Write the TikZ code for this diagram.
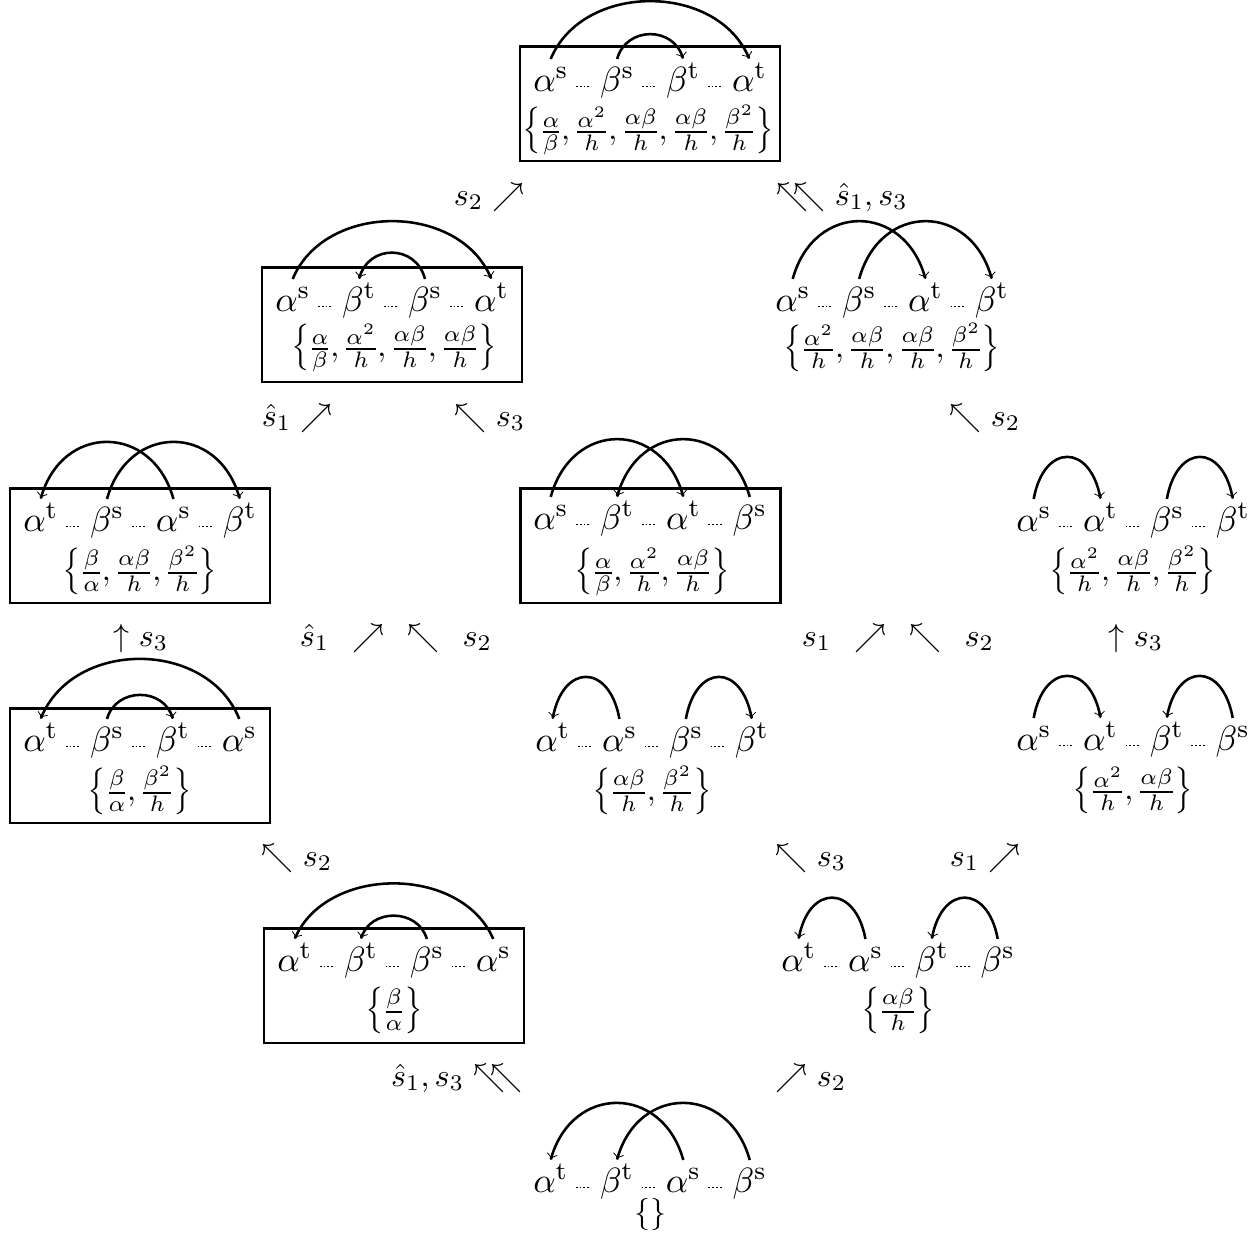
\documentclass[tikz,border=0pt]{standalone}
\usepackage{amsmath}
\usetikzlibrary{matrix,arrows.meta}
\newcommand{\As}{\alpha^{\mathrm{s}}}
\newcommand{\At}{\alpha^{\mathrm{t}}}
\newcommand{\Bs}{\beta^{\mathrm{s}}}
\newcommand{\Bt}{\beta^{\mathrm{t}}}
\newcommand{\fr}[2]{\genfrac{}{}{0.55pt}{1}{#1}{#2}}
\newcommand{\lbr}{\mathopen{\scalebox{1}[1.22]{$\bigl\{$}}}
\newcommand{\rbr}{\mathclose{\scalebox{1}[1.22]{$\bigr\}$}}}
\tikzset{
  rowm/.style={matrix of math nodes, ampersand replacement=\&, column sep=8pt, inner sep=0pt,
     nodes={inner xsep=1pt, inner ysep=2pt, text height=8pt, text depth=2pt, font=\fontsize{10.95}{13}\selectfont}},
  dotl/.style={line width=0.6pt, dash pattern=on 0.6pt off 0.6pt, shorten <=1.2pt, shorten >=2pt},
  arcl/.style={line width=0.8pt, -{To[length=2pt,width=3.4pt,line width=0.25pt]}},
  setn/.style={inner sep=0pt, font={\normalsize\setlength{\nulldelimiterspace}{0.6pt}}},
  framebox/.style={draw, line width=0.9pt, minimum width=81.25pt, minimum height=35.9pt, inner sep=0pt},
  lab/.style={inner sep=0pt, font=\normalsize},
}
\newcommand{\qrow}[7]{%
  \matrix (#1) [rowm] at (#2,#3) {#4 \& #5 \& #6 \& #7 \\};
  \draw[dotl] ([yshift=1.6pt]#1-1-1.base east) -- ([yshift=1.6pt]#1-1-2.base west);
  \draw[dotl] ([yshift=1.6pt]#1-1-2.base east) -- ([yshift=1.6pt]#1-1-3.base west);
  \draw[dotl] ([yshift=1.6pt]#1-1-3.base east) -- ([yshift=1.6pt]#1-1-4.base west);
}
\newcommand{\arcR}[4]{\draw[arcl] (#1.north) .. controls +(#3,-#4) and +(-#3,-#4) .. (#2.north);}
\newcommand{\arcL}[4]{\draw[arcl] (#1.north) .. controls +(-#3,-#4) and +(#3,-#4) .. (#2.north);}
\begin{document}
\begin{tikzpicture}[x=0.3125pt,y=-0.3125pt]
\useasboundingbox (0,0) rectangle (1260,1237);
% frames
\node[framebox] (bT) at (650,103.5) {};
\node[framebox] (b2L) at (392,324.5) {};
\node[framebox] (b3L) at (140,545.5) {};
\node[framebox] (b3M) at (650.5,545.5) {};
\node[framebox] (b4L) at (140,765.5) {};
\node[framebox] (b5L) at (394,985.5) {};
% rows
\qrow{rT}{650}{82}{\As}{\Bs}{\Bt}{\At}
\arcR{rT-1-1}{rT-1-4}{32}{77}
\arcR{rT-1-2}{rT-1-3}{9}{33}
\node[setn] (sT) at (648,130) {$\lbr\fr{\alpha}{\beta},\fr{\alpha^2}{h},\fr{\alpha\beta}{h},\fr{\alpha\beta}{h},\fr{\beta^2}{h}\rbr$};

\qrow{r2L}{392}{302}{\As}{\Bt}{\Bs}{\At}
\arcR{r2L-1-1}{r2L-1-4}{32}{77}
\arcL{r2L-1-3}{r2L-1-2}{9}{35}
\node[setn] (s2L) at (394,348) {$\lbr\fr{\alpha}{\beta},\fr{\alpha^2}{h},\fr{\alpha\beta}{h},\fr{\alpha\beta}{h}\rbr$};

\qrow{r2R}{892}{302}{\As}{\Bs}{\At}{\Bt}
\arcR{r2R-1-1}{r2R-1-3}{21}{77}
\arcR{r2R-1-2}{r2R-1-4}{21}{77}
\node[setn] (s2R) at (892,347) {$\lbr\fr{\alpha^2}{h},\fr{\alpha\beta}{h},\fr{\alpha\beta}{h},\fr{\beta^2}{h}\rbr$};

\qrow{r3L}{140}{522}{\At}{\Bs}{\As}{\Bt}
\arcL{r3L-1-3}{r3L-1-1}{21}{76}
\arcR{r3L-1-2}{r3L-1-4}{21}{76}
\node[setn] (s3L) at (140,570) {$\lbr\fr{\beta}{\alpha},\fr{\alpha\beta}{h},\fr{\beta^2}{h}\rbr$};

\qrow{r3M}{650}{520}{\As}{\Bt}{\At}{\Bs}
\arcR{r3M-1-1}{r3M-1-3}{21}{77}
\arcL{r3M-1-4}{r3M-1-2}{21}{77}
\node[setn] (s3M) at (652,572) {$\lbr\fr{\alpha}{\beta},\fr{\alpha^2}{h},\fr{\alpha\beta}{h}\rbr$};

\qrow{r3R}{1133}{522}{\As}{\At}{\Bs}{\Bt}
\arcR{r3R-1-1}{r3R-1-2}{10}{56}
\arcR{r3R-1-3}{r3R-1-4}{10}{56}
\node[setn] (s3R) at (1133,570) {$\lbr\fr{\alpha^2}{h},\fr{\alpha\beta}{h},\fr{\beta^2}{h}\rbr$};

\qrow{r4L}{140}{742}{\At}{\Bs}{\Bt}{\As}
\arcL{r4L-1-4}{r4L-1-1}{32}{80}
\arcR{r4L-1-2}{r4L-1-3}{9}{32}
\node[setn] (s4L) at (140,790) {$\lbr\fr{\beta}{\alpha},\fr{\beta^2}{h}\rbr$};

\qrow{r4M}{652}{742}{\At}{\As}{\Bs}{\Bt}
\arcL{r4M-1-2}{r4M-1-1}{10}{56}
\arcR{r4M-1-3}{r4M-1-4}{10}{56}
\node[setn] (s4M) at (652,790) {$\lbr\fr{\alpha\beta}{h},\fr{\beta^2}{h}\rbr$};

\qrow{r4R}{1133}{741}{\As}{\At}{\Bt}{\Bs}
\arcR{r4R-1-1}{r4R-1-2}{10}{56}
\arcL{r4R-1-4}{r4R-1-3}{10}{56}
\node[setn] (s4R) at (1133,790) {$\lbr\fr{\alpha^2}{h},\fr{\alpha\beta}{h}\rbr$};

\qrow{r5L}{394}{962}{\At}{\Bt}{\Bs}{\As}
\arcL{r5L-1-4}{r5L-1-1}{32}{74}
\arcL{r5L-1-3}{r5L-1-2}{9}{31}
\node[setn] (s5L) at (394,1010) {$\lbr\fr{\beta}{\alpha}\rbr$};

\qrow{r5R}{898}{962}{\At}{\As}{\Bt}{\Bs}
\arcL{r5R-1-2}{r5R-1-1}{10}{55}
\arcL{r5R-1-4}{r5R-1-3}{10}{55}
\node[setn] (s5R) at (898,1010) {$\lbr\fr{\alpha\beta}{h}\rbr$};

\qrow{r6}{650}{1183}{\At}{\Bt}{\As}{\Bs}
\arcL{r6-1-3}{r6-1-1}{21}{76}
\arcL{r6-1-4}{r6-1-2}{21}{76}
\node[lab] (s6) at (650,1214) {$\{\}$};

% labels
\node[lab] (l1) at (489,197) {$s_2\nearrow$};
\node[lab] (l2) at (842,197) {$\nwarrow\mkern-8mu\nwarrow\hat{s}_1, s_3$};
\node[lab] (l3) at (297,418) {$\hat{s}_1\nearrow$};
\node[lab] (l4) at (490,418) {$\nwarrow s_3$};
\node[lab] (l5) at (985,418) {$\nwarrow s_2$};
\node[lab] (l6) at (141,638) {$\uparrow s_3$};
\node[lab] (l7) at (396,638) {$\hat{s}_1\mkern13mu{\nearrow}\mkern13mu{\nwarrow}\mkern13mu s_2$};
\node[lab] (l8) at (898,638) {$s_1\mkern13mu{\nearrow}\mkern13mu{\nwarrow}\mkern13mu s_2$};
\node[lab] (l9) at (1136,638) {$\uparrow s_3$};
\node[lab] (l10) at (297,858) {$\nwarrow s_2$};
\node[lab] (l11) at (811,858) {$\nwarrow s_3$};
\node[lab] (l12) at (985,858) {$s_1\nearrow$};
\node[lab] (l13) at (457,1078) {$\hat{s}_1, s_3\nwarrow\mkern-8mu\nwarrow$};
\node[lab] (l14) at (811,1078) {$\nearrow s_2$};
\end{tikzpicture}
\end{document}
